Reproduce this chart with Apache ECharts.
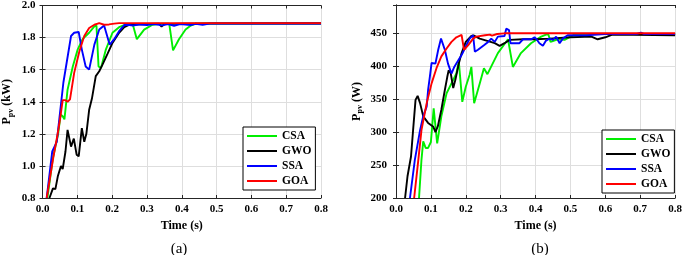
<!DOCTYPE html>
<html>
<head>
<meta charset="utf-8">
<script src="https://cdn.jsdelivr.net/npm/echarts@6/dist/echarts.min.js"></script>
<style>
  html, body {margin: 0; padding: 0; background: #fff;}
  #chart {width: 685px; height: 255px;}
</style>
</head>
<body>
<div id="chart"></div>
<script>
const names = ['CSA', 'GWO', 'SSA', 'GOA']
const colors = ['#00ee00', '#000000', '#0000ff', '#ff0000']
const xTicks = [0, 0.8, 0.1]
const yTicksA = [0.8, 2.0, 0.2]
const yTicksB = [200, 493, 50]

// (a) P_pv in kW, [time s, value]
const csaA = [[0.014,0.8],[0.03,1.05],[0.045,1.2],[0.052,1.32],[0.058,1.31],[0.063,1.29],[0.072,1.475],[0.087,1.62],[0.101,1.725],[0.115,1.79],[0.134,1.83],[0.149,1.87],[0.155,1.875],[0.161,1.62],[0.168,1.61],[0.182,1.725],[0.201,1.83],[0.22,1.865],[0.24,1.882],[0.259,1.885],[0.271,1.79],[0.292,1.85],[0.316,1.88],[0.34,1.886],[0.364,1.887],[0.375,1.72],[0.392,1.79],[0.411,1.85],[0.426,1.875],[0.44,1.887],[0.5,1.889],[0.8,1.889]]
const gwoA = [[0.02,0.8],[0.03,0.86],[0.037,0.855],[0.044,0.935],[0.053,1.0],[0.058,0.98],[0.066,1.09],[0.072,1.225],[0.082,1.12],[0.09,1.17],[0.098,1.07],[0.104,1.06],[0.113,1.235],[0.12,1.15],[0.126,1.2],[0.134,1.35],[0.142,1.42],[0.153,1.56],[0.163,1.59],[0.172,1.63],[0.187,1.70],[0.201,1.767],[0.22,1.83],[0.235,1.865],[0.25,1.88],[0.3,1.885],[0.335,1.886],[0.342,1.868],[0.35,1.884],[0.4,1.887],[0.8,1.888]]
const ssaA = [[0.012,0.8],[0.028,1.09],[0.041,1.15],[0.06,1.52],[0.082,1.81],[0.091,1.83],[0.104,1.835],[0.113,1.725],[0.124,1.62],[0.134,1.60],[0.149,1.756],[0.163,1.85],[0.177,1.875],[0.193,1.756],[0.206,1.79],[0.22,1.84],[0.235,1.878],[0.245,1.88],[0.26,1.875],[0.28,1.882],[0.3,1.878],[0.32,1.884],[0.345,1.876],[0.36,1.884],[0.378,1.874],[0.395,1.884],[0.426,1.878],[0.44,1.886],[0.46,1.88],[0.48,1.888],[0.8,1.888]]
const goaA = [[0.012,0.8],[0.03,1.04],[0.044,1.205],[0.053,1.33],[0.058,1.41],[0.066,1.41],[0.072,1.40],[0.079,1.415],[0.091,1.58],[0.106,1.715],[0.12,1.81],[0.134,1.86],[0.149,1.88],[0.163,1.89],[0.177,1.88],[0.191,1.882],[0.206,1.887],[0.22,1.89],[0.8,1.89]]

// (b) P_pv in W
const csaB = [[0.066,200],[0.073,258],[0.078,286],[0.085,276],[0.092,276],[0.1,285],[0.108,336],[0.118,283],[0.13,324],[0.145,359],[0.159,374],[0.173,389],[0.18,407],[0.183,409],[0.19,346],[0.2,369],[0.211,387],[0.216,399],[0.224,344],[0.24,374],[0.252,397],[0.262,388],[0.292,420],[0.321,441],[0.325,442],[0.335,399],[0.358,420],[0.387,435],[0.416,445],[0.43,448],[0.437,448],[0.443,437],[0.464,441],[0.483,440],[0.511,448],[0.55,449],[0.8,449]]
const gwoB = [[0.026,200],[0.033,233],[0.043,263],[0.049,303],[0.056,349],[0.062,355],[0.069,344],[0.078,324],[0.092,314],[0.107,308],[0.113,300],[0.12,309],[0.13,334],[0.14,364],[0.147,384],[0.151,394],[0.157,389],[0.164,367],[0.17,379],[0.18,404],[0.188,420],[0.2,437],[0.216,446],[0.222,447],[0.24,442],[0.259,439],[0.283,435],[0.297,431],[0.311,435],[0.326,440],[0.364,441],[0.402,441],[0.44,442],[0.5,444],[0.56,445],[0.578,441],[0.6,444],[0.62,448],[0.8,447]]
const ssaB = [[0.04,200],[0.054,258],[0.069,303],[0.078,324],[0.088,339],[0.092,364],[0.097,384],[0.102,405],[0.113,404],[0.121,425],[0.129,442],[0.133,442],[0.14,425],[0.149,404],[0.159,389],[0.167,399],[0.176,407],[0.188,417],[0.2,430],[0.211,442],[0.221,447],[0.226,422],[0.235,425],[0.252,432],[0.264,437],[0.273,442],[0.283,437],[0.292,445],[0.311,446],[0.316,457],[0.324,455],[0.328,435],[0.354,435],[0.364,441],[0.388,441],[0.397,444],[0.403,441],[0.411,435],[0.421,431],[0.43,439],[0.44,442],[0.45,440],[0.459,445],[0.469,435],[0.478,442],[0.492,447],[0.545,447],[0.6,449],[0.69,449],[0.702,451],[0.71,449],[0.8,449]]
const goaB = [[0.052,200],[0.064,258],[0.073,303],[0.088,344],[0.102,374],[0.116,397],[0.13,415],[0.145,427],[0.159,437],[0.173,444],[0.188,447.5],[0.192,447.5],[0.195,425],[0.207,432],[0.221,442],[0.23,445],[0.255,447],[0.269,448],[0.275,446.5],[0.29,449],[0.31,450],[0.8,450]]

const ff = 'Liberation Serif'
const frame = '#262626'
const lbl = {fontFamily: ff, fontWeight: 'bold', fontSize: 11, color: '#000'}

const xAxes = (grid) => ([
  {
    type: 'value', gridIndex: grid, position: 'bottom',
    min: xTicks[0], max: xTicks[1], interval: xTicks[2],
    name: 'Time (s)', nameLocation: 'middle', nameGap: 19,
    nameTextStyle: {fontFamily: ff, fontWeight: 'bold', fontSize: 12, color: '#000'},
    axisLine: {show: true, lineStyle: {color: frame, width: 1}},
    axisTick: {show: true, inside: true, length: 3, lineStyle: {color: frame}},
    axisLabel: {...lbl, margin: 6, formatter: v => v.toFixed(1)},
    splitLine: {show: true, lineStyle: {color: '#dedede', width: 1}}
  },
  {
    type: 'value', gridIndex: grid, position: 'top',
    min: xTicks[0], max: xTicks[1], interval: xTicks[2],
    axisLine: {show: true, lineStyle: {color: frame, width: 1}},
    axisTick: {show: true, inside: true, length: 3, lineStyle: {color: frame}},
    axisLabel: {show: false}, splitLine: {show: false}
  }
])

const yAxes = (grid, t, unit, gap, margin, dec) => ([
  {
    type: 'value', gridIndex: grid, position: 'left',
    min: t[0], max: t[1], interval: t[2],
    name: '{p|P}{s|pv} ' + unit, nameLocation: 'middle', nameGap: gap,
    nameTextStyle: {
      fontFamily: ff, fontWeight: 'bold', fontSize: 12, color: '#000',
      rich: {
        p: {fontFamily: ff, fontWeight: 'bold', fontSize: 12, color: '#000'},
        s: {fontFamily: ff, fontWeight: 'bold', fontSize: 8, color: '#000', padding: [7, 0, 0, 0]}
      }
    },
    axisLine: {show: true, lineStyle: {color: frame, width: 1}},
    axisTick: {show: true, inside: true, length: 3, lineStyle: {color: frame}},
    axisLabel: {...lbl, margin: margin, showMaxLabel: dec > 0, formatter: v => v.toFixed(dec)},
    splitLine: {show: true, lineStyle: {color: '#dedede', width: 1.2}}
  },
  {
    type: 'value', gridIndex: grid, position: 'right',
    min: t[0], max: t[1], interval: t[2],
    axisLine: {show: true, lineStyle: {color: frame, width: 1}},
    axisTick: {show: true, inside: true, length: 3, lineStyle: {color: frame}},
    axisLabel: {show: false}, splitLine: {show: false}
  }
])

const mkSeries = (sets, axisIdx) => sets.map((d, i) => ({
  name: names[i], type: 'line', data: d,
  xAxisIndex: axisIdx, yAxisIndex: axisIdx,
  symbol: 'none', showSymbol: false, smooth: false,
  lineStyle: {color: colors[i], width: 1.9},
  itemStyle: {color: colors[i]},
  z: 2 + i
}))

const mkLegend = (left, top) => ({
  orient: 'vertical', left: left, top: top, data: names,
  icon: 'rect', itemWidth: 30, itemHeight: 2, itemGap: 1,
  padding: [2, 4, 2, 4],
  borderColor: '#000', borderWidth: 1, backgroundColor: '#fff',
  textStyle: {fontFamily: ff, fontWeight: 'bold', fontSize: 11.5, color: '#000', lineHeight: 14},
  selectedMode: false
})

const chart = echarts.init(document.getElementById('chart'), null, {renderer: 'canvas'})
chart.setOption({
  animation: false,
  backgroundColor: '#fff',
  color: colors,
  title: [
    {text: '(a)', left: 174, top: 237, textAlign: 'center',
     textStyle: {fontFamily: ff, fontWeight: 'normal', fontSize: 15, color: '#000'}},
    {text: '(b)', left: 535, top: 237, textAlign: 'center',
     textStyle: {fontFamily: ff, fontWeight: 'normal', fontSize: 15, color: '#000'}}
  ],
  grid: [
    {left: 41, top: 5, width: 280, height: 193},
    {left: 396, top: 5, width: 280, height: 193}
  ],
  xAxis: [...xAxes(0), ...xAxes(1)],
  yAxis: [...yAxes(0, yTicksA, '(kW)', 28, 7, 1), ...yAxes(1, yTicksB, '(W)', 32, 9, 0)],
  legend: [mkLegend(243, 127), mkLegend(602, 130)],
  series: [
    ...mkSeries([csaA, gwoA, ssaA, goaA], 0),
    ...mkSeries([csaB, gwoB, ssaB, goaB], 2)
  ]
})
</script>
</body>
</html>
